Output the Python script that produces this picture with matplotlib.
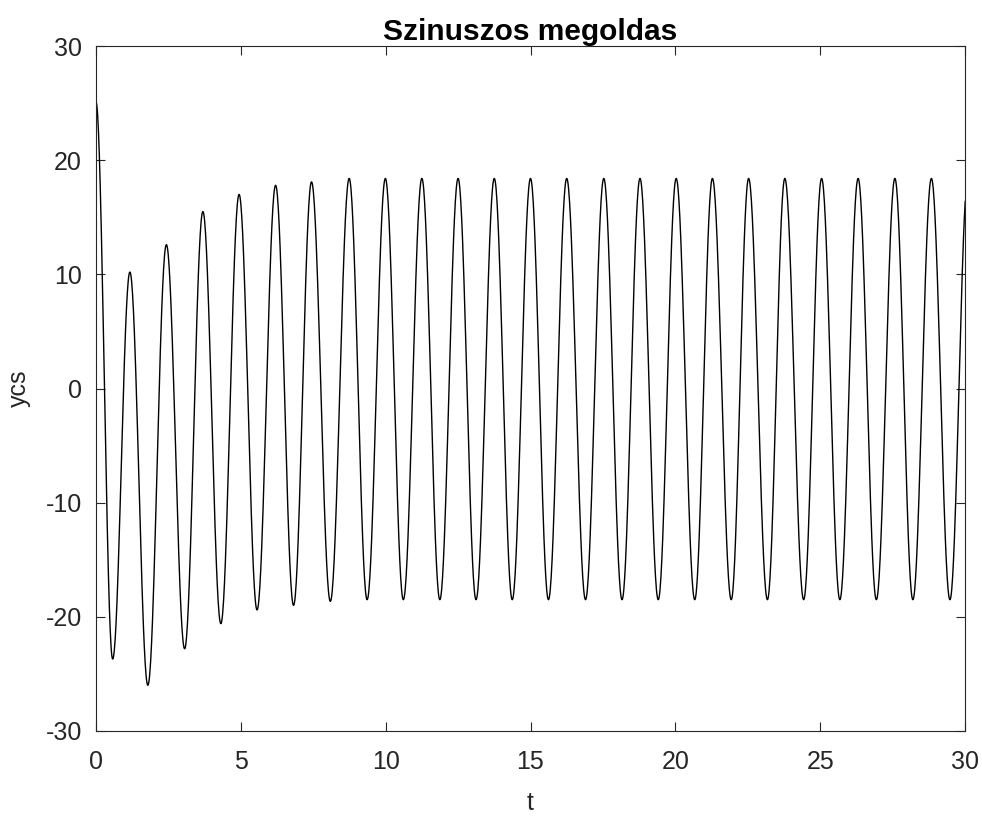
import numpy as np
import matplotlib
matplotlib.use("Agg")
from matplotlib import pyplot as plt

# turning points of the curve (time, value)
ext_t = [0.0, 0.575, 1.17, 1.79, 2.43, 3.06, 3.69, 4.31, 4.94, 5.56,
         6.20, 6.82, 7.44, 8.09, 8.74, 9.36, 9.99, 10.61, 11.25, 11.87,
         12.50, 13.12, 13.75, 14.37, 15.00, 15.62, 16.25, 16.90, 17.53, 18.16,
         18.78, 19.41, 20.03, 20.67, 21.28, 21.93, 22.53, 23.18, 23.78, 24.43,
         25.05, 25.68, 26.31, 26.94, 27.58, 28.20, 28.84, 29.48, 30.10]
ext_y = [25.1, -23.7, 10.2, -26.0, 12.6, -22.8, 15.5, -20.6, 17.0, -19.4,
         17.8, -19.0, 18.1, -18.65, 18.4, -18.5, 18.4, -18.5, 18.4, -18.5,
         18.4, -18.5, 18.4, -18.5, 18.4, -18.5, 18.4, -18.5, 18.4, -18.5,
         18.4, -18.5, 18.4, -18.5, 18.4, -18.5, 18.4, -18.5, 18.4, -18.5,
         18.4, -18.5, 18.4, -18.5, 18.4, -18.5, 18.4, -18.5, 18.4]

x_ticks = [0, 5, 10, 15, 20, 25, 30]
y_ticks = [-30, -20, -10, 0, 10, 20, 30]

TITLE = "Szinuszos megoldas"
XLABEL = "t"
YLABEL = "ycs"
INK = "#262626"


def smooth_between(ts, ys, n=40):
    # half-cosine shape between consecutive turning points
    tt, yy = [], []
    for i in range(len(ts) - 1):
        s = np.linspace(0, 1, n, endpoint=False)
        tt.append(ts[i] + (ts[i + 1] - ts[i]) * s)
        yy.append(ys[i] + (ys[i + 1] - ys[i]) * (1 - np.cos(np.pi * s)) / 2)
    tt.append([ts[-1]])
    yy.append([ys[-1]])
    return np.concatenate(tt), np.concatenate(yy)


plt.rcParams["font.family"] = ["Liberation Sans", "DejaVu Sans"]
plt.rcParams["axes.unicode_minus"] = False

fig = plt.figure(figsize=(9.82, 8.17), dpi=100)
ax = fig.add_axes([96 / 982, 1 - 731 / 817, (965 - 96) / 982, (731 - 46) / 817])

t, y = smooth_between(ext_t, ext_y)
ax.plot(t, y, color="black", linewidth=1.0)

ax.set_xlim(0, 30)
ax.set_ylim(-30, 30)
ax.set_xticks(x_ticks)
ax.set_yticks(y_ticks)
ax.tick_params(direction="in", length=6.5, width=0.8, colors=INK,
               labelsize=18, top=True, right=True)
ax.tick_params(axis="x", pad=14)
ax.tick_params(axis="y", pad=10)
for sp in ax.spines.values():
    sp.set_color(INK)
    sp.set_linewidth(0.8)

ax.set_title(TITLE, fontsize=21.5, fontweight="bold", color="black", pad=4)
ax.set_xlabel(XLABEL, fontsize=18, color=INK, labelpad=12)
ax.set_ylabel(YLABEL, fontsize=18, color=INK, labelpad=11)

fig.savefig("out.png", dpi=100, facecolor="white")
